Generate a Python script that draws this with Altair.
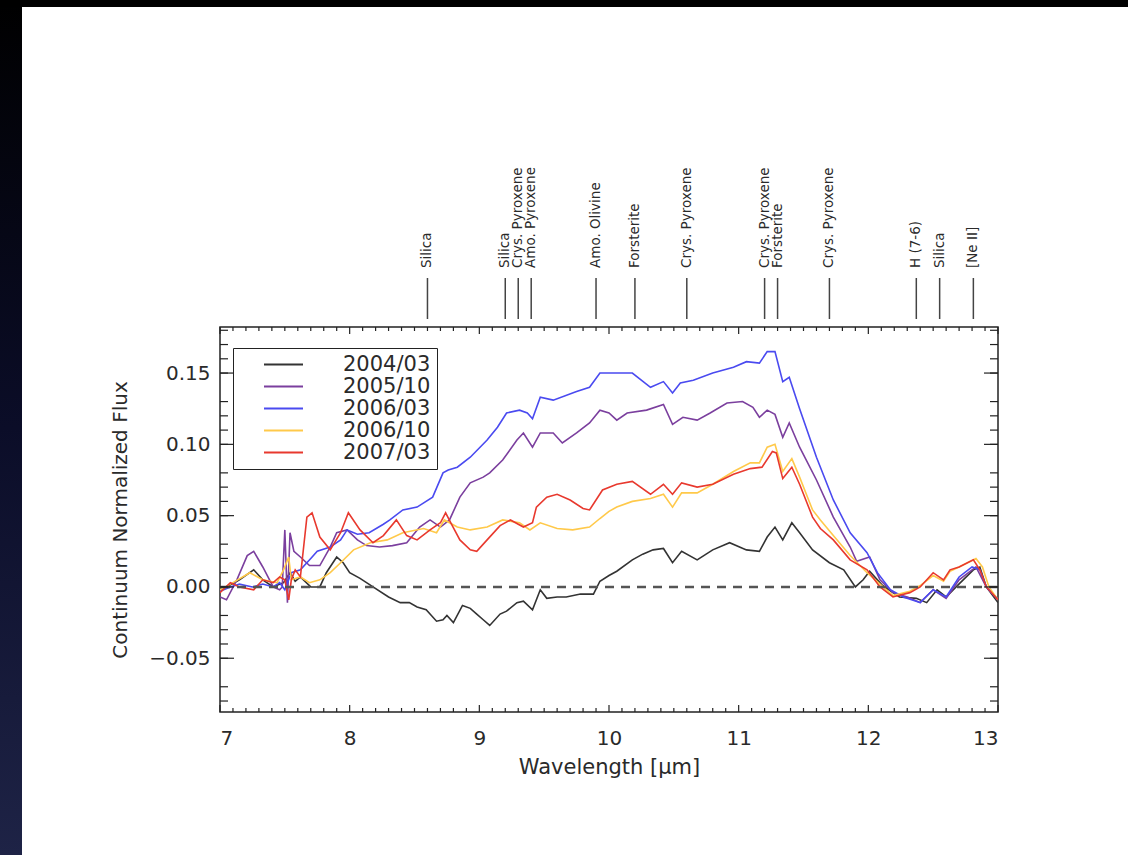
import altair as alt
import pandas as pd

# ---- spectra: wavelength (micron) and continuum-normalized flux per epoch ----
wl_2004 = [7.00, 7.05, 7.15, 7.26, 7.33, 7.41, 7.49, 7.54, 7.58, 7.62, 7.70, 7.77, 7.82, 7.90, 7.95,
           8.00, 8.08, 8.18, 8.30, 8.39, 8.46, 8.52, 8.59, 8.67, 8.72, 8.75, 8.80, 8.87, 8.93, 8.98,
           9.03, 9.08, 9.16, 9.21, 9.29, 9.34, 9.41, 9.47, 9.52, 9.60, 9.67, 9.78, 9.88, 9.93, 10.00,
           10.06, 10.18, 10.26, 10.34, 10.42, 10.49, 10.56, 10.68, 10.80, 10.93, 11.06, 11.16, 11.22,
           11.28, 11.34, 11.41, 11.47, 11.57, 11.70, 11.81, 11.90, 11.96, 12.01, 12.11, 12.24, 12.37,
           12.45, 12.53, 12.60, 12.71, 12.81, 12.86, 12.91, 13.00]
fx_2004 = [-0.002, 0.000, 0.005, 0.012, 0.005, 0.000, 0.003, 0.010, 0.004, 0.007, 0.000, 0.000, 0.010,
           0.021, 0.017, 0.010, 0.006, 0.000, -0.007, -0.011, -0.011, -0.014, -0.016, -0.024, -0.023,
           -0.020, -0.025, -0.013, -0.015, -0.019, -0.023, -0.027, -0.019, -0.017, -0.011, -0.010,
           -0.016, -0.002, -0.008, -0.007, -0.007, -0.005, -0.005, 0.004, 0.008, 0.011, 0.019, 0.023,
           0.026, 0.027, 0.017, 0.025, 0.019, 0.026, 0.031, 0.026, 0.025, 0.035, 0.042, 0.033, 0.045,
           0.038, 0.026, 0.017, 0.012, 0.000, 0.005, 0.011, 0.001, -0.007, -0.008, -0.011, -0.002,
           -0.007, 0.003, 0.012, 0.014, 0.000, -0.011]

wl_2005 = [7.00, 7.05, 7.13, 7.21, 7.26, 7.33, 7.41, 7.46, 7.48, 7.50, 7.52, 7.54, 7.57, 7.62, 7.69,
           7.77, 7.85, 7.90, 7.98, 8.06, 8.13, 8.23, 8.33, 8.44, 8.54, 8.62, 8.70, 8.77, 8.85, 8.93,
           9.03, 9.08, 9.18, 9.29, 9.34, 9.41, 9.47, 9.57, 9.64, 9.75, 9.85, 9.93, 10.00, 10.06, 10.14,
           10.29, 10.42, 10.49, 10.57, 10.68, 10.78, 10.91, 11.03, 11.11, 11.16, 11.22, 11.28, 11.34,
           11.39, 11.47, 11.60, 11.73, 11.86, 11.91, 12.01, 12.09, 12.19, 12.30, 12.40, 12.50, 12.60,
           12.70, 12.83, 12.91, 13.00]
fx_2005 = [-0.007, -0.009, 0.005, 0.022, 0.025, 0.014, 0.000, -0.002, 0.000, 0.040, -0.011, 0.038,
           0.025, 0.021, 0.015, 0.015, 0.028, 0.038, 0.040, 0.033, 0.029, 0.028, 0.029, 0.031, 0.042,
           0.047, 0.042, 0.047, 0.063, 0.073, 0.077, 0.080, 0.089, 0.103, 0.108, 0.098, 0.108, 0.108,
           0.101, 0.108, 0.115, 0.124, 0.122, 0.117, 0.122, 0.124, 0.128, 0.114, 0.119, 0.117, 0.122,
           0.129, 0.130, 0.126, 0.119, 0.124, 0.121, 0.105, 0.115, 0.098, 0.075, 0.049, 0.028, 0.018,
           0.021, 0.005, -0.004, -0.007, -0.011, -0.002, -0.008, 0.005, 0.014, 0.000, -0.009]

wl_2006a = [7.00, 7.08, 7.15, 7.25, 7.33, 7.41, 7.46, 7.50, 7.55, 7.62, 7.70, 7.75, 7.85, 7.93, 7.98,
            8.06, 8.15, 8.26, 8.31, 8.41, 8.52, 8.64, 8.72, 8.76, 8.83, 8.93, 9.06, 9.14, 9.21, 9.31,
            9.37, 9.41, 9.47, 9.57, 9.75, 9.85, 9.93, 10.06, 10.18, 10.32, 10.42, 10.49, 10.55, 10.65,
            10.80, 10.96, 11.06, 11.16, 11.22, 11.28, 11.34, 11.39, 11.47, 11.60, 11.73, 11.86, 11.99,
            12.07, 12.17, 12.27, 12.40, 12.50, 12.60, 12.70, 12.80, 12.86, 12.91, 13.00]
fx_2006a = [-0.003, 0.000, 0.002, 0.000, 0.002, 0.000, 0.003, -0.002, 0.010, 0.012, 0.020, 0.025,
            0.028, 0.033, 0.040, 0.037, 0.038, 0.044, 0.047, 0.054, 0.056, 0.063, 0.080, 0.082, 0.084,
            0.091, 0.103, 0.112, 0.122, 0.124, 0.122, 0.118, 0.133, 0.131, 0.137, 0.140, 0.150, 0.150,
            0.150, 0.140, 0.144, 0.136, 0.143, 0.145, 0.150, 0.154, 0.158, 0.157, 0.165, 0.165, 0.144,
            0.147, 0.125, 0.091, 0.061, 0.038, 0.024, 0.010, -0.002, -0.007, -0.011, -0.002, -0.007,
            0.007, 0.014, 0.012, 0.000, -0.009]

wl_2006b = [7.00, 7.10, 7.23, 7.33, 7.44, 7.49, 7.53, 7.55, 7.62, 7.69, 7.77, 7.85, 7.93, 8.03, 8.16,
            8.29, 8.41, 8.57, 8.67, 8.73, 8.83, 8.93, 9.06, 9.18, 9.31, 9.39, 9.47, 9.60, 9.72, 9.85,
            9.93, 10.00, 10.06, 10.18, 10.32, 10.42, 10.49, 10.56, 10.68, 10.80, 10.96, 11.09, 11.16,
            11.22, 11.28, 11.34, 11.41, 11.47, 11.57, 11.63, 11.73, 11.86, 11.99, 12.09, 12.19, 12.32,
            12.40, 12.50, 12.58, 12.63, 12.70, 12.83, 12.88, 12.93, 13.00]
fx_2006b = [-0.002, 0.003, 0.010, 0.005, 0.003, 0.012, 0.021, 0.005, 0.007, 0.003, 0.005, 0.010, 0.017,
            0.026, 0.031, 0.033, 0.038, 0.041, 0.038, 0.047, 0.042, 0.040, 0.042, 0.047, 0.045, 0.040,
            0.045, 0.041, 0.040, 0.042, 0.048, 0.053, 0.056, 0.060, 0.062, 0.065, 0.056, 0.066, 0.066,
            0.072, 0.081, 0.087, 0.087, 0.098, 0.100, 0.081, 0.090, 0.077, 0.054, 0.047, 0.036, 0.022,
            0.010, 0.002, -0.006, -0.003, 0.001, 0.008, 0.004, 0.011, 0.014, 0.020, 0.014, 0.000, -0.009]

wl_2007 = [7.00, 7.08, 7.15, 7.26, 7.33, 7.41, 7.46, 7.50, 7.53, 7.55, 7.58, 7.62, 7.67, 7.71, 7.77,
           7.85, 7.93, 7.99, 8.08, 8.18, 8.26, 8.36, 8.44, 8.52, 8.62, 8.70, 8.74, 8.78, 8.85, 8.93,
           8.98, 9.06, 9.16, 9.24, 9.34, 9.41, 9.44, 9.52, 9.60, 9.70, 9.80, 9.85, 9.95, 10.06, 10.18,
           10.32, 10.42, 10.49, 10.56, 10.68, 10.80, 10.96, 11.09, 11.18, 11.26, 11.29, 11.34, 11.41,
           11.47, 11.57, 11.63, 11.73, 11.86, 11.99, 12.09, 12.19, 12.32, 12.40, 12.50, 12.58, 12.63,
           12.70, 12.81, 12.86, 12.91, 13.00]
fx_2007 = [-0.004, 0.003, 0.000, -0.002, 0.005, 0.003, 0.007, 0.005, -0.009, 0.005, 0.012, 0.007,
           0.049, 0.052, 0.035, 0.026, 0.038, 0.052, 0.040, 0.031, 0.036, 0.047, 0.036, 0.033, 0.040,
           0.045, 0.052, 0.045, 0.033, 0.026, 0.025, 0.033, 0.043, 0.047, 0.042, 0.045, 0.056, 0.063,
           0.065, 0.061, 0.055, 0.054, 0.068, 0.072, 0.074, 0.065, 0.072, 0.065, 0.073, 0.070, 0.072,
           0.079, 0.083, 0.084, 0.095, 0.094, 0.076, 0.084, 0.072, 0.049, 0.041, 0.033, 0.019, 0.012,
           0.000, -0.007, -0.004, 0.000, 0.010, 0.005, 0.012, 0.014, 0.019, 0.012, 0.000, -0.009]

epochs = ["2004/03", "2005/10", "2006/03", "2006/10", "2007/03"]
epoch_colors = ["#333333", "#7b3f9e", "#4a4af0", "#ffc94a", "#e8392e"]

# ---- dust / gas features marked above the frame ----
feature_wl = [8.6, 9.2, 9.3, 9.4, 9.9, 10.2, 10.6, 11.2, 11.3, 11.7, 12.37, 12.55, 12.81]
feature_names = ["Silica", "Silica", "Crys. Pyroxene", "Amo. Pyroxene", "Amo. Olivine", "Forsterite",
                 "Crys. Pyroxene", "Crys. Pyroxene", "Forsterite", "Crys. Pyroxene", "H (7-6)",
                 "Silica", "[Ne II]"]

# ---- axis ticks ----
x_major = [7, 8, 9, 10, 11, 12, 13]
x_minor = [round(7 + 0.1 * i, 1) for i in range(61) if i % 10]
y_major = [-0.05, 0.0, 0.05, 0.10, 0.15]
y_minor = [round(-0.08 + 0.01 * i, 2) for i in range(27) if (i + 8) % 5]

W, H = 778, 385
FONT = "DejaVu Sans"
INK = "#2a2a2a"

spectra = [wl_2004, wl_2005, wl_2006a, wl_2006b, wl_2007]
fluxes = [fx_2004, fx_2005, fx_2006a, fx_2006b, fx_2007]
rows = []
for name, wl, fx in zip(epochs, spectra, fluxes):
    for w, f in zip(wl, fx):
        rows.append({"epoch": name, "wavelength": w, "flux": f})
df = pd.DataFrame(rows)

x_scale = alt.Scale(domain=[7, 13], nice=False, zero=False)
y_scale = alt.Scale(domain=[-0.0877, 0.1823], nice=False, zero=False)

one = pd.DataFrame({"k": [0]})

# dark slide edges (left strip with gradient, thin top strip)
left_strip = alt.Chart(one).mark_rect(
    fill=alt.Gradient(gradient="linear",
                      stops=[alt.GradientStop(color="#000000", offset=0),
                             alt.GradientStop(color="#0b0d28", offset=0.5),
                             alt.GradientStop(color="#1e2346", offset=1)],
                      x1=0, x2=0, y1=0, y2=1)
).encode(x=alt.value(-220), x2=alt.value(-198), y=alt.value(-327), y2=alt.value(H + 143))
top_strip = alt.Chart(one).mark_rect(fill="#000000").encode(
    x=alt.value(-220), x2=alt.value(W + 130), y=alt.value(-327), y2=alt.value(-320))

lines = alt.Chart(df).mark_line(strokeWidth=1.6, clip=True).encode(
    x=alt.X("wavelength:Q", scale=x_scale,
            axis=alt.Axis(title="Wavelength [µm]", values=x_major, format="d", grid=False,
                          ticks=False, tickSize=0, domain=False, labelPadding=16, titlePadding=8,
                          labelFont=FONT, labelFontSize=20, labelColor=INK,
                          titleFont=FONT, titleFontSize=21, titleFontWeight="normal", titleColor=INK)),
    y=alt.Y("flux:Q", scale=y_scale,
            axis=alt.Axis(title="Continuum Normalized Flux", values=y_major, format=".2f", grid=False,
                          ticks=False, tickSize=0, domain=False, labelPadding=10, titlePadding=18,
                          labelFont=FONT, labelFontSize=20, labelColor=INK,
                          titleFont=FONT, titleFontSize=20, titleFontWeight="normal", titleColor=INK)),
    color=alt.Color("epoch:N", sort=epochs,
                    scale=alt.Scale(domain=epochs, range=epoch_colors),
                    legend=alt.Legend(title=None, orient="none", legendX=13, legendY=21,
                                      symbolType="M-3.9,0H3.9", symbolSize=100, symbolStrokeWidth=2,
                                      symbolOffset=34, labelOffset=49, labelFont=FONT,
                                      labelFontSize=21, labelColor=INK, labelLimit=300,
                                      strokeColor="#222222", fillColor="white", padding=6,
                                      rowPadding=0)),
)

zero_line = alt.Chart(pd.DataFrame({"flux": [0.0]})).mark_rule(
    color="#555555", strokeWidth=2.5, strokeDash=[9, 7]
).encode(y=alt.Y("flux:Q", scale=y_scale))


def x_ticks(values, y0, y1):
    return alt.Chart(pd.DataFrame({"wavelength": values})).mark_rule(color="#222222", strokeWidth=1.2).encode(
        x=alt.X("wavelength:Q", scale=x_scale), y=alt.value(y0), y2=alt.value(y1))


def y_ticks(values, x0, x1):
    return alt.Chart(pd.DataFrame({"flux": values})).mark_rule(color="#222222", strokeWidth=1.2).encode(
        y=alt.Y("flux:Q", scale=y_scale), x=alt.value(x0), x2=alt.value(x1))


ticks = [
    x_ticks(x_major, H, H - 7), x_ticks(x_minor, H, H - 4),
    x_ticks(x_major, 0, 7), x_ticks(x_minor, 0, 4),
    y_ticks(y_major, 0, 14), y_ticks(y_minor, 0, 8),
    y_ticks(y_major, W, W - 14), y_ticks(y_minor, W, W - 8),
]

features = pd.DataFrame({"wavelength": feature_wl, "label": feature_names})
feature_rules = alt.Chart(features).mark_rule(color="#444444", strokeWidth=1.5).encode(
    x=alt.X("wavelength:Q", scale=x_scale), y=alt.value(-49), y2=alt.value(-8))
feature_text = alt.Chart(features).mark_text(
    angle=270, align="left", baseline="middle", font=FONT, fontSize=13.5, color=INK
).encode(x=alt.X("wavelength:Q", scale=x_scale), y=alt.value(-59), text="label:N")

chart = alt.layer(
    left_strip, top_strip, lines, zero_line, *ticks, feature_rules, feature_text
).properties(
    width=W, height=H,
    padding={"left": 220, "top": 327, "right": 130, "bottom": 143},
    autosize=alt.AutoSizeParams(type="none"),
    background="white",
).configure_view(stroke="#222222", strokeWidth=1.5)

chart.save("out.html", embed_options={"renderer": "svg", "actions": False})
